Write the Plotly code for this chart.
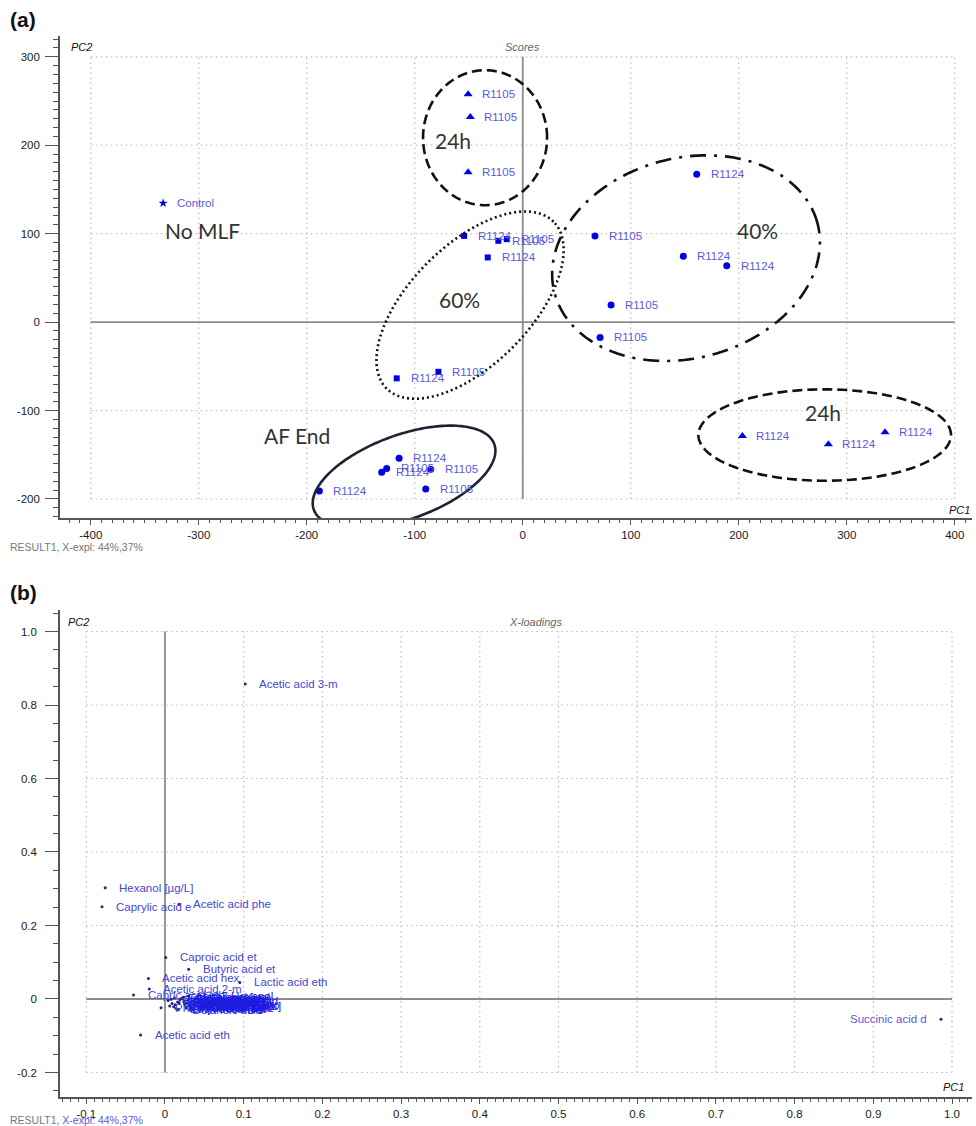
import numpy as np
import plotly.graph_objects as go

W, H = 976, 1126

# ---------------- (a) Scores data ----------------
tri_top_x = [-50.6, -48.5, -50.6]
tri_top_y = [257.6, 232.0, 169.5]
tri_top_lab = ["R1105", "R1105", "R1105"]

control_x = [-333.0]
control_y = [134.5]
control_lab = ["Control"]

sq_x = [-54.3, -22.6, -14.8, -32.4, -116.7, -78.1]
sq_y = [97.5, 91.9, 93.8, 73.1, -63.6, -56.2]
sq_lab = ["R1124", "R1105", "R1105", "R1124", "R1124", "R1105"]

c40_x = [161.1, 66.9, 148.7, 188.9, 81.8, 71.6]
c40_y = [167.2, 97.5, 74.6, 63.6, 19.2, -17.3]
c40_lab = ["R1124", "R1105", "R1124", "R1124", "R1105", "R1105"]

tri_bot_x = [203.4, 283.0, 335.5]
tri_bot_y = [-128.8, -138.2, -124.6]
tri_bot_lab = ["R1124", "R1124", "R1124"]

af_x = [-188.3, -130.6, -126.0, -114.5, -85.2, -89.8]
af_y = [-191.0, -169.9, -165.4, -154.0, -166.5, -188.7]
af_lab = ["R1124", "R1124", "R1105", "R1124", "R1105", "R1105"]

group_text = ["No MLF", "24h", "60%", "40%", "AF End", "24h"]
group_x = [-296.5, -64.5, -59.0, 217.0, -209.3, 278.0]
group_y = [104.0, 205.6, 26.0, 104.0, -128.5, -102.0]

# ellipse: centre (data), semi-axes a,b (screen px), angle (deg), dash
ell_cx = [-34.9, -48.8, 151.2, 279.6, -109.9]
ell_cy = [208.5, 19.2, 72.3, -127.7, -175.1]
ell_a = [62.0, 118.0, 136.0, 126.3, 96.0]
ell_b = [67.5, 60.0, 100.0, 45.7, 42.0]
ell_ang = [0.0, 45.0, 15.0, 0.0, 20.0]
ell_dash = ["10px,5px", "2px,3px", "16px,8px,3px,8px", "10px,5px", "solid"]
ell_col = ["#111111", "#111111", "#111111", "#111111", "#1c2433"]

a_xticks = [-400, -300, -200, -100, 0, 100, 200, 300, 400]
a_yticks = [-200, -100, 0, 100, 200, 300]

# ---------------- (b) X-loadings data ----------------
ld_names = ["Acetic acid 3-m", "Hexanol [µg/L]", "Caprylic acid e", "Acetic acid phe",
            "Caproic acid et", "Butyric acid et", "Acetic acid hex", "Lactic acid eth",
            "Acetic acid 2-m", "Capric acid eth", "Propionic acid", "Acetic acid eth"]
ld_x = [0.102, -0.076, -0.080, 0.018, 0.001, 0.030, -0.021, 0.095, -0.020, -0.040, -0.005, -0.031]
ld_y = [0.857, 0.303, 0.251, 0.258, 0.113, 0.081, 0.056, 0.045, 0.027, 0.011, -0.024, -0.098]

cl_names = ["Ethyl acetate [", "Isoamyl acetat", "Ethyl butanoat", "Isobutanol [mg",
            "Hexyl acetate", "Ethyl octanoat", "Ethyl decanoat", "2-Phenylethano",
            "Isoamyl alcoho", "Diethyl succin", "Ethyl hexanoat", "Benzyl alcohol",
            "Methionol [µg/", "Octanoic acid", "Decanoic acid", "Hexanoic acid",
            "1-Propanol [mg", "Isovaleric aci", "cis-3-Hexenol", "Butanol [µg/L]",
            "Ethyl propanoa", "Isobutyric aci", "Furfural [µg/L", "Ethyl isobutyr"]
cl_x = [0.004, 0.009, 0.012, 0.006, 0.016, 0.021, 0.014, 0.025, 0.019, 0.028,
        0.011, 0.031, 0.023, 0.017, 0.034, 0.027, 0.008, 0.036, 0.030, 0.039,
        0.013, 0.024, 0.033, 0.018]
cl_y = [-0.004, -0.012, 0.003, -0.019, -0.008, 0.001, -0.026, -0.015, -0.003, -0.010,
        -0.021, -0.018, 0.005, -0.029, -0.006, -0.023, -0.001, -0.013, 0.008, -0.020,
        -0.016, -0.007, -0.025, -0.011]

succ_name = ["Succinic acid d"]
succ_x = [0.986]
succ_y = [-0.055]

b_xticks = [-0.1, 0, 0.1, 0.2, 0.3, 0.4, 0.5, 0.6, 0.7, 0.8, 0.9, 1.0]
b_xtext = ["-0.1", "0", "0.1", "0.2", "0.3", "0.4", "0.5", "0.6", "0.7", "0.8", "0.9", "1.0"]
b_yticks = [-0.2, 0, 0.2, 0.4, 0.6, 0.8, 1.0]
b_ytext = ["-0.2", "0", "0.2", "0.4", "0.6", "0.8", "1.0"]

# ---------------- layout geometry ----------------
PX_L, PX_R = 60, 972
A_TOP, A_BOT = 36, 518
B_TOP, B_BOT = 610, 1097
a_xr = [-428.5, 416.0]
a_yr = [-221.5, 323.5]
b_xr = [-0.1334, 1.0254]
b_yr = [-0.2667, 1.0585]

def px(v):
    return v / W

def py(v):
    return 1 - v / H

sx = (PX_R - PX_L) / (a_xr[1] - a_xr[0])
sy = (A_BOT - A_TOP) / (a_yr[1] - a_yr[0])

FONT = "Liberation Sans, Arial, sans-serif"
LABCOL = "#5a5ad8"
MCOL = "#0000e6"

fig = go.Figure()

def add_pts(xs, ys, symbol, size, xa="x", ya="y", color=MCOL):
    fig.add_trace(go.Scatter(x=xs, y=ys, mode="markers", xaxis=xa, yaxis=ya,
                             marker=dict(symbol=symbol, size=size, color=color,
                                         line=dict(width=0)),
                             showlegend=False, hoverinfo="skip"))

add_pts(tri_top_x, tri_top_y, "triangle-up", 8)
add_pts(control_x, control_y, "star", 7)
add_pts(sq_x, sq_y, "square", 6)
add_pts(c40_x, c40_y, "circle", 7)
add_pts(tri_bot_x, tri_bot_y, "triangle-up", 8)
add_pts(af_x, af_y, "circle", 7)

ann = []
for xs, ys, labs in [(tri_top_x, tri_top_y, tri_top_lab), (control_x, control_y, control_lab),
                     (sq_x, sq_y, sq_lab), (c40_x, c40_y, c40_lab),
                     (tri_bot_x, tri_bot_y, tri_bot_lab), (af_x, af_y, af_lab)]:
    for x, y, t in zip(xs, ys, labs):
        ann.append(dict(x=x, y=y, xref="x", yref="y", text=t, showarrow=False,
                        xanchor="left", yanchor="middle", xshift=12,
                        font=dict(family=FONT, size=11.5, color=LABCOL)))

for t, x, y in zip(group_text, group_x, group_y):
    ann.append(dict(x=x, y=y, xref="x", yref="y", text=t, showarrow=False,
                    xanchor="center", yanchor="middle",
                    font=dict(family="Lato, Open Sans, sans-serif", size=21, color="#333333")))

# ellipses
shapes = []
tt = np.linspace(0, 2 * np.pi, 181)
for cx, cy, a, b, ang, dash, col in zip(ell_cx, ell_cy, ell_a, ell_b, ell_ang, ell_dash, ell_col):
    th = np.deg2rad(ang)
    dx = a * np.cos(tt) * np.cos(th) - b * np.sin(tt) * np.sin(th)
    dy = a * np.cos(tt) * np.sin(th) + b * np.sin(tt) * np.cos(th)
    xs = cx + dx / sx
    ys = cy + dy / sy
    path = "M " + " L ".join(f"{x:.3f},{y:.3f}" for x, y in zip(xs, ys)) + " Z"
    shapes.append(dict(type="path", path=path, xref="x", yref="y",
                       line=dict(color=col, width=2.6, dash=dash), layer="above"))

GRIDCOL = "#bdbdbd"
GRIDDASH = "1.5px,3.5px"
ZCOL = "#8c8c8c"

# (a) grid & zero lines
for v in a_xticks:
    shapes.append(dict(type="line", xref="x", yref="y", x0=v, x1=v, y0=a_yticks[0], y1=a_yticks[-1],
                       line=dict(color=GRIDCOL, width=1.2, dash=GRIDDASH), layer="below"))
for v in a_yticks:
    shapes.append(dict(type="line", xref="x", yref="y", x0=a_xticks[0], x1=a_xticks[-1], y0=v, y1=v,
                       line=dict(color=GRIDCOL, width=1.2, dash=GRIDDASH), layer="below"))
shapes.append(dict(type="line", xref="x", yref="y", x0=0, x1=0, y0=a_yticks[0], y1=a_yticks[-1],
                   line=dict(color=ZCOL, width=1.8), layer="below"))
shapes.append(dict(type="line", xref="x", yref="y", x0=a_xticks[0], x1=a_xticks[-1], y0=0, y1=0,
                   line=dict(color=ZCOL, width=1.8), layer="below"))

# (b) grid & zero lines
for v in b_xticks:
    shapes.append(dict(type="line", xref="x2", yref="y2", x0=v, x1=v, y0=b_yticks[0], y1=b_yticks[-1],
                       line=dict(color=GRIDCOL, width=1.2, dash=GRIDDASH), layer="below"))
for v in b_yticks:
    shapes.append(dict(type="line", xref="x2", yref="y2", x0=b_xticks[0], x1=b_xticks[-1], y0=v, y1=v,
                       line=dict(color=GRIDCOL, width=1.2, dash=GRIDDASH), layer="below"))
shapes.append(dict(type="line", xref="x2", yref="y2", x0=0, x1=0, y0=b_yticks[0], y1=b_yticks[-1],
                   line=dict(color=ZCOL, width=1.8), layer="below"))
shapes.append(dict(type="line", xref="x2", yref="y2", x0=b_xticks[0], x1=b_xticks[-1], y0=0, y1=0,
                   line=dict(color=ZCOL, width=1.8), layer="below"))

# (b) points
add_pts(ld_x + cl_x + succ_x, ld_y + cl_y + succ_y, "circle", 3, "x2", "y2", "#22228c")
for x, y, t in zip(ld_x, ld_y, ld_names):
    ann.append(dict(x=x, y=y, xref="x2", yref="y2", text=t, showarrow=False,
                    xanchor="left", yanchor="middle", xshift=12,
                    font=dict(family=FONT, size=11.5, color="#4646d2")))
for x, y, t in zip(cl_x, cl_y, cl_names):
    ann.append(dict(x=x, y=y, xref="x2", yref="y2", text=t, showarrow=False,
                    xanchor="left", yanchor="middle", xshift=12,
                    font=dict(family=FONT, size=11.5, color="#1c1ce0")))
for x, y, t in zip(succ_x, succ_y, succ_name):
    ann.append(dict(x=x, y=y, xref="x2", yref="y2", text=t, showarrow=False,
                    xanchor="right", yanchor="middle", xshift=-12,
                    font=dict(family=FONT, size=11.5, color="#5a5ad8")))

# panel texts
def ptext(x, y, t, size=11, color="#111111", xanchor="left", italic=False, bold=False, family=FONT):
    if italic:
        t = "<i>" + t + "</i>"
    if bold:
        t = "<b>" + t + "</b>"
    ann.append(dict(x=px(x), y=py(y), xref="paper", yref="paper", text=t, showarrow=False,
                    xanchor=xanchor, yanchor="middle",
                    font=dict(family=family, size=size, color=color)))

ptext(8, 20, "(a)", size=21, bold=True, color="#111111")
ptext(69, 47, "PC2", italic=True)
ptext(522, 47, "Scores", italic=True, color="#666666", xanchor="center")
ptext(972, 510, "PC1", italic=True, xanchor="right")
ptext(8, 547, "RESULT1, X-expl: 44%,37%", size=10.5, color="#777777")

ptext(8, 592, "(b)", size=21, bold=True, color="#111111")
ptext(66, 622, "PC2", italic=True)
ptext(535, 622, "X-loadings", italic=True, color="#666666", xanchor="center")
ptext(966, 1087, "PC1", italic=True, xanchor="right")
ptext(8, 1120, "RESULT1, <span style='color:#5a5ad8'>X-expl: 44%,37%</span>", size=10.5, color="#777777")

AXCOL = "#555555"
tickfont = dict(family=FONT, size=11.5, color="#1a1a1a")

def axis_common():
    return dict(showline=True, linecolor=AXCOL, linewidth=1.6, mirror=False,
                showgrid=False, zeroline=False, ticks="outside", tickcolor=AXCOL,
                tickwidth=1.2, tickfont=tickfont, fixedrange=True)

xa = axis_common()
xa.update(domain=[px(PX_L), px(PX_R)], range=a_xr, anchor="y", ticklen=5,
          tickvals=a_xticks, ticktext=[str(v) for v in a_xticks],
          minor=dict(ticks="outside", ticklen=3, dtick=10, tickcolor=AXCOL, showgrid=False))
ya = axis_common()
ya.update(domain=[py(A_BOT), py(A_TOP)], range=a_yr, anchor="x", ticklen=13,
          tickvals=a_yticks, ticktext=[str(v) for v in a_yticks], ticklabelstandoff=3,
          minor=dict(ticks="outside", ticklen=5, dtick=10, tickcolor=AXCOL, showgrid=False))
xb = axis_common()
xb.update(domain=[px(PX_L), px(PX_R)], range=b_xr, anchor="y2", ticklen=5,
          tickvals=b_xticks, ticktext=b_xtext,
          minor=dict(ticks="outside", ticklen=3, dtick=0.01, tickcolor=AXCOL, showgrid=False))
yb = axis_common()
yb.update(domain=[py(B_BOT), py(B_TOP)], range=b_yr, anchor="x2", ticklen=13,
          tickvals=b_yticks, ticktext=b_ytext, ticklabelstandoff=6,
          minor=dict(ticks="outside", ticklen=5, dtick=0.05, tickcolor=AXCOL, showgrid=False))

fig.update_layout(width=W, height=H, margin=dict(l=0, r=0, t=0, b=0),
                  paper_bgcolor="white", plot_bgcolor="white",
                  xaxis=xa, yaxis=ya, xaxis2=xb, yaxis2=yb,
                  shapes=shapes, annotations=ann, showlegend=False)

fig.write_html("out.html")
